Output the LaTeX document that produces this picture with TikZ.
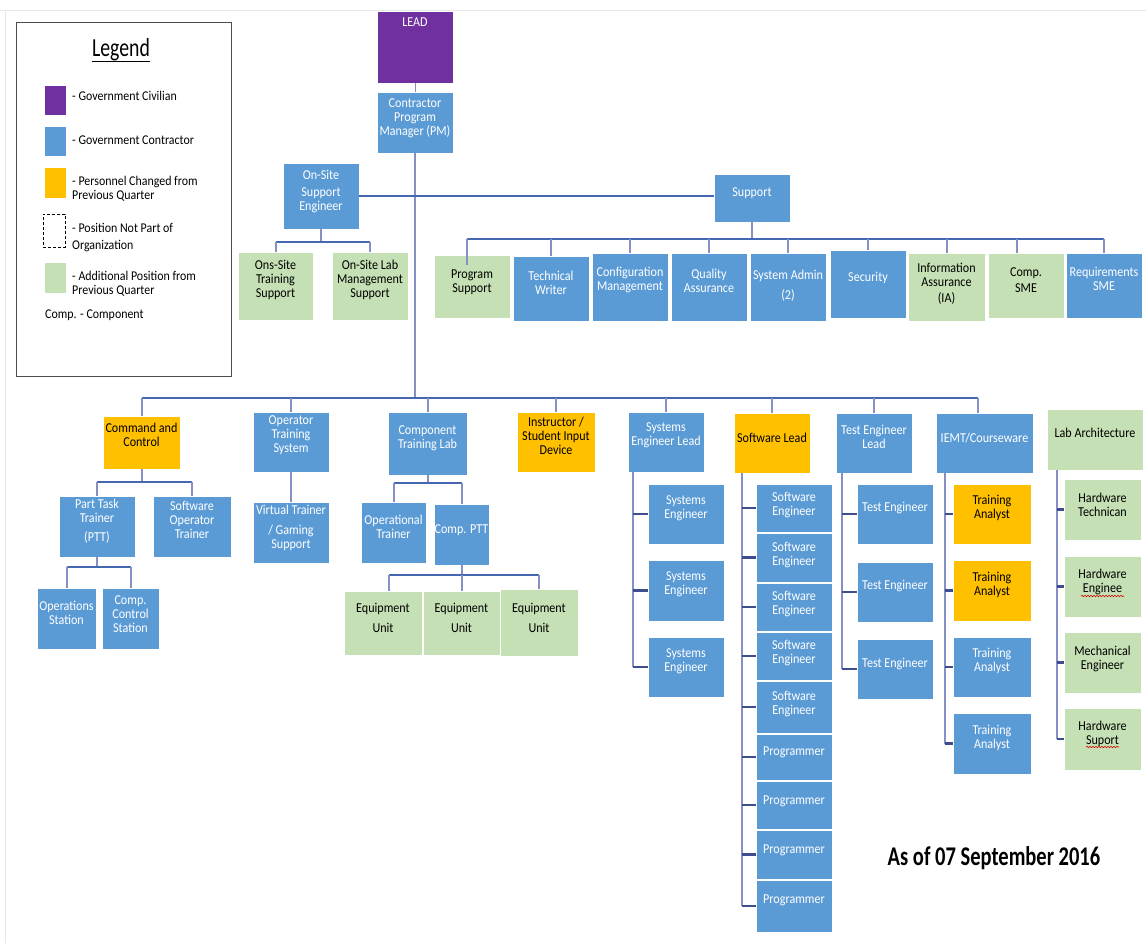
\documentclass[tikz,border=0pt]{standalone}
\usepackage{fontspec}
\setmainfont{Carlito}[FakeStretch=0.89]
\newfontfamily\datefont{Carlito}[FakeStretch=0.76]
\usetikzlibrary{decorations.pathmorphing}
\definecolor{cpur}{HTML}{7030A0}
\definecolor{cblu}{HTML}{5B9BD5}
\definecolor{cora}{HTML}{FFC000}
\definecolor{cgrn}{HTML}{C5E0B4}
\definecolor{cbar}{HTML}{4566B0}
\definecolor{cvert}{HTML}{8590C4}
\definecolor{ctick}{HTML}{3D4D8E}
\tikzset{
 box/.style={inner sep=0pt, outer sep=0pt, draw=white, line width=0.6pt},
 bbox/.style={fill=cblu}, obox/.style={fill=cora}, gbox/.style={fill=cgrn}, pbox/.style={fill=cpur},
 txt/.style={inner sep=0pt, align=center, font=\fontsize{13.6}{14}\selectfont},
 wt/.style={text=white}, kt/.style={text=black},
 hbar/.style={draw=cbar, line width=2.4pt},
 vbar/.style={draw=cvert, line width=2pt},
 tickl/.style={draw=ctick, line width=2.2pt},
 legtxt/.style={inner sep=0pt, anchor=west, align=left, font=\fontsize{13.4}{14}\selectfont},
 squig/.style={draw=red!85!black, line width=0.6pt, decorate, decoration={snake, amplitude=0.7pt, segment length=3pt}},
}
\newcommand\orgbox[9]{%
 \node[box,#6,minimum width={(#4)-(#2)},minimum height={(#5)-(#3)}] (#1) at ({((#2)+(#4))/2},{((#3)+(#5))/2}) {};
 \node[txt,#7] (#1t) at ({((#2)+(#4))/2},#8) {#9};}
\begin{document}
\begin{tikzpicture}[x=1pt,y=-1pt]
\useasboundingbox (0,0) rectangle (1146,943);
\draw[gray!18, line width=0.8pt] (0,10) -- (1146,10);
\draw[gray!18, line width=0.8pt] (5,10) -- (5,943);

% ---------- legend ----------
\node[draw=gray!60!black, line width=0.8pt, minimum width=215, minimum height=354, inner sep=0pt] (legbox) at (123.5,199) {};
\node[inner sep=0pt, anchor=base, font=\datefont\fontsize{26}{28}\selectfont] (legt) at (121,56) {Legend};
\draw[line width=1.2pt] ([yshift=-1pt]legt.south west) -- ([yshift=-1pt]legt.south east);
\node[fill=cpur, minimum width=21, minimum height=29, inner sep=0pt] (lg1) at (55.5,100.5) {};
\node[fill=cblu, minimum width=21, minimum height=29, inner sep=0pt] (lg2) at (55.5,141.5) {};
\node[fill=cora, minimum width=21, minimum height=30, inner sep=0pt] (lg3) at (55.5,183) {};
\node[draw, dash pattern=on 3pt off 2pt, line width=0.8pt, minimum width=22, minimum height=33, inner sep=0pt] (lg4) at (54,230.5) {};
\node[fill=cgrn, minimum width=21, minimum height=30, inner sep=0pt] (lg5) at (55.5,278) {};
\node[legtxt] (lt1) at (72,96) {- Government Civilian};
\node[legtxt] (lt2) at (72,140) {- Government Contractor};
\node[legtxt] (lt3) at (72,188.5) {- Personnel Changed from\\Previous Quarter};
\node[legtxt] (lt4) at (72,237.5) {- Position Not Part of\\[3pt]Organization};
\node[legtxt] (lt5) at (72,283.5) {- Additional Position from\\Previous Quarter};
\node[legtxt] (lt6) at (45,315) {Comp. - Component};

% ---------- top ----------
\orgbox{lead}{377}{11}{453}{83}{pbox}{wt}{22}{LEAD}
\orgbox{pm}{377}{92}{453}{153}{bbox}{wt}{118}{Contractor\\Program\\Manager (PM)}
\orgbox{ose}{283}{163}{359}{229}{bbox}{wt}{191}{On-Site\\[3pt]Support\\Engineer}
\orgbox{sup}{714}{174}{790}{222}{bbox}{wt}{193}{Support}
\orgbox{ostr}{238}{252}{313}{320}{gbox}{kt}{280}{Ons-Site\\Training\\Support}
\orgbox{oslab}{332}{252}{408}{320}{gbox}{kt}{280}{On-Site Lab\\Management\\Support}
\orgbox{ps}{434}{255}{510}{318}{gbox}{kt}{282}{Program\\Support}
\orgbox{tw}{513}{256}{589}{321}{bbox}{wt}{283}{Technical\\Writer}
\orgbox{cm}{592}{253}{668}{321}{bbox}{wt}{280}{Configuration\\Management}
\orgbox{qa}{671}{253}{747}{321}{bbox}{wt}{281}{Quality\\Assurance}
\orgbox{sa}{750}{253}{826}{321}{bbox}{wt}{286}{System Admin\\[6pt](2)}
\orgbox{sec}{830}{250}{906}{318}{bbox}{wt}{278}{Security}
\orgbox{ia}{908}{253}{985}{321}{gbox}{kt}{284}{Information\\Assurance\\[2pt](IA)}
\orgbox{csme}{988}{253}{1064}{318}{gbox}{kt}{280}{Comp.\\[2pt]SME}
\orgbox{rsme}{1066}{253}{1142}{318}{bbox}{wt}{279}{Requirements\\SME}

% ---------- lower first row ----------
\orgbox{cc}{103}{416}{180}{469}{obox}{kt}{435}{Command and\\Control}
\orgbox{ots}{253}{412}{329}{472}{bbox}{wt}{435}{Operator\\Training\\System}
\orgbox{ctl}{388}{412}{467}{475}{bbox}{wt}{438}{Component\\Training Lab}
\orgbox{isd}{517}{412}{595}{472}{obox}{kt}{436}{Instructor /\\Student Input\\Device}
\orgbox{sel}{628}{412}{704}{472}{bbox}{wt}{435}{Systems\\Engineer Lead}
\orgbox{swl}{734}{413}{810}{473}{obox}{kt}{438}{Software Lead}
\orgbox{tel}{836}{413}{912}{473}{bbox}{wt}{437}{Test Engineer\\Lead}
\orgbox{iemt}{936}{413}{1033}{473}{bbox}{wt}{438}{IEMT/Courseware}
\orgbox{lab}{1047}{409}{1143}{470}{gbox}{kt}{433}{Lab Architecture}

% ---------- left subtrees ----------
\orgbox{ptt}{59}{496}{135}{557}{bbox}{wt}{521}{Part Task\\Trainer\\[5pt](PTT)}
\orgbox{sot}{153}{496}{231}{557}{bbox}{wt}{520}{Software\\Operator\\Trainer}
\orgbox{vt}{253}{502}{329}{563}{bbox}{wt}{528}{Virtual Trainer\\[6pt]/ Gaming\\Support}
\orgbox{opt}{361}{502}{426}{563}{bbox}{wt}{527}{Operational\\Trainer}
\orgbox{cptt}{434}{504}{489}{565}{bbox}{wt}{530}{Comp. PTT}
\orgbox{os}{37}{588}{96}{649}{bbox}{wt}{613}{Operations\\Station}
\orgbox{ccs}{102}{588}{159}{649}{bbox}{wt}{614}{Comp.\\Control\\Station}
\orgbox{eu1}{344}{591}{422}{655}{gbox}{kt}{618}{Equipment\\[6pt]Unit}
\orgbox{eu2}{423}{591}{500}{655}{gbox}{kt}{618}{Equipment\\[6pt]Unit}
\orgbox{eu3}{500}{589}{578}{656}{gbox}{kt}{618}{Equipment\\[6pt]Unit}

% ---------- right lists ----------
\orgbox{se1}{648}{484}{724}{544}{bbox}{wt}{508}{Systems\\Engineer}
\orgbox{se2}{648}{560}{724}{621}{bbox}{wt}{584}{Systems\\Engineer}
\orgbox{se3}{648}{637}{724}{697}{bbox}{wt}{661}{Systems\\Engineer}
\orgbox{sw1}{756}{484}{832}{532}{bbox}{wt}{505}{Software\\Engineer}
\orgbox{sw2}{756}{533}{832}{582}{bbox}{wt}{555}{Software\\Engineer}
\orgbox{sw3}{756}{583}{832}{631}{bbox}{wt}{604}{Software\\Engineer}
\orgbox{sw4}{756}{632}{832}{680}{bbox}{wt}{653}{Software\\Engineer}
\orgbox{sw5}{756}{681}{832}{733}{bbox}{wt}{704}{Software\\Engineer}
\orgbox{pr1}{756}{734}{832}{780}{bbox}{wt}{752}{Programmer}
\orgbox{pr2}{756}{781}{832}{829}{bbox}{wt}{801}{Programmer}
\orgbox{pr3}{756}{830}{832}{879}{bbox}{wt}{850}{Programmer}
\orgbox{pr4}{756}{880}{832}{932}{bbox}{wt}{900}{Programmer}
\orgbox{te1}{857}{484}{933}{544}{bbox}{wt}{508}{Test Engineer}
\orgbox{te2}{857}{562}{933}{622}{bbox}{wt}{586}{Test Engineer}
\orgbox{te3}{857}{639}{933}{699}{bbox}{wt}{664}{Test Engineer}
\orgbox{ta1}{953}{484}{1031}{544}{obox}{kt}{508}{Training\\Analyst}
\orgbox{ta2}{953}{560}{1031}{621}{obox}{kt}{585}{Training\\Analyst}
\orgbox{ta3}{953}{637}{1031}{697}{bbox}{wt}{661}{Training\\Analyst}
\orgbox{ta4}{953}{713}{1031}{774}{bbox}{wt}{738}{Training\\Analyst}
\orgbox{hw1}{1064}{479}{1141}{540}{gbox}{kt}{505}{Hardware\\Technican}
\orgbox{hw2}{1064}{556}{1141}{617}{gbox}{kt}{582}{Hardware\\Enginee}
\orgbox{hw3}{1064}{632}{1141}{693}{gbox}{kt}{659}{Mechanical\\Engineer}
\orgbox{hw4}{1064}{708}{1141}{770}{gbox}{kt}{734}{Hardware\\Suport}
\draw[squig] (1081,596) -- (1124,596);
\draw[squig] (1086,747) -- (1119,747);

\node[inner sep=0pt, font=\datefont\bfseries\fontsize{27}{30}\selectfont] (date) at (994,858) {As of 07 September 2016};

% ---------- connectors ----------
\coordinate (mb) at (0,398);
\coordinate (ob) at (0,242);
\coordinate (sb) at (0,239);
\coordinate (b1) at (0,482);
\coordinate (b2) at (0,567);
\coordinate (b3) at (0,483);
\coordinate (b4) at (0,575);
\draw[vbar, line width=1pt] (lead.south) -- (pm.north);
\draw[vbar] (pm.south) -- (pm.south|-mb);
\draw[hbar] (ose.east) -- (ose.east-|sup.west);
% on-site
\draw[vbar] (ose.south) -- (ose.south|-ob);
\draw[hbar] (ostr.north|-ob) -- (oslab.north|-ob);
\draw[vbar] (ostr.north|-ob) -- (ostr.north);
\draw[vbar] (oslab.north|-ob) -- (oslab.north);
% support
\draw[vbar] (sup.south) -- (sup.south|-sb);
\draw[hbar] ([xshift=-5pt]ps.north|-sb) -- (rsme.north|-sb);
\draw[vbar] ([xshift=-5pt]ps.north|-sb) -- ([xshift=-5pt,yshift=-10pt]ps.north);
\draw[vbar] ([xshift=-9pt]csme.north|-sb) -- ([xshift=-9pt]csme.north);
\foreach \n in {tw,cm,qa,sa,sec,ia,rsme}{\draw[vbar] (\n.north|-sb) -- (\n.north);}
% main bar
\draw[hbar] (cc.north|-mb) -- ([xshift=-7pt]iemt.north|-mb);
\foreach \n in {cc,ots,ctl,isd,sel,swl,tel}{\draw[vbar] (\n.north|-mb) -- (\n.north);}
\draw[vbar] ([xshift=-7pt]iemt.north|-mb) -- ([xshift=-7pt]iemt.north);
% command and control
\draw[vbar] (cc.south) -- (cc.south|-b1);
\draw[hbar] (ptt.north|-b1) -- (sot.north|-b1);
\draw[vbar] (ptt.north|-b1) -- (ptt.north);
\draw[vbar] (sot.north|-b1) -- (sot.north);
\draw[vbar] (ptt.south) -- (ptt.south|-b2);
\draw[hbar] (os.north|-b2) -- (ccs.north|-b2);
\draw[vbar] (os.north|-b2) -- (os.north);
\draw[vbar] (ccs.north|-b2) -- (ccs.north);
% operator training
\draw[vbar] (ots.south) -- (vt.north);
% component training lab
\draw[vbar] (ctl.south) -- (ctl.south|-b3);
\draw[hbar] (opt.north|-b3) -- (cptt.north|-b3);
\draw[vbar] (opt.north|-b3) -- (opt.north);
\draw[vbar] (cptt.north|-b3) -- (cptt.north);
\draw[vbar] (cptt.south) -- (cptt.south|-b4);
\draw[hbar] ([xshift=6pt]eu1.north|-b4) -- (eu3.north|-b4);
\draw[vbar] ([xshift=6pt]eu1.north|-b4) -- ([xshift=6pt]eu1.north);
\draw[vbar] (eu2.north|-b4) -- (eu2.north);
\draw[vbar] (eu3.north|-b4) -- (eu3.north);
% lists
\coordinate (selx) at ([xshift=5pt]sel.south west);
\draw[vbar] (selx) -- (selx|-se3.west);
\foreach \n in {se1,se2,se3}{\draw[tickl] (selx|-\n.west) -- (\n.west);}
\coordinate (swlx) at ([xshift=8pt]swl.south west);
\draw[vbar] (swlx) -- (swlx|-pr4.west);
\foreach \n in {sw1,sw2,sw3,sw4,sw5,pr1,pr2,pr3,pr4}{\draw[tickl] (swlx|-\n.west) -- (\n.west);}
\coordinate (telx) at ([xshift=6pt]tel.south west);
\draw[vbar] (telx) -- (telx|-te3.west);
\foreach \n in {te1,te2,te3}{\draw[tickl] (telx|-\n.west) -- (\n.west);}
\coordinate (iemtx) at ([xshift=9pt]iemt.south west);
\draw[vbar] (iemtx) -- (iemtx|-ta4.west);
\foreach \n in {ta1,ta2,ta3,ta4}{\draw[tickl] (iemtx|-\n.west) -- (\n.west);}
\coordinate (labx) at ([xshift=10pt]lab.south west);
\draw[vbar] (labx) -- (labx|-hw4.west);
\foreach \n in {hw1,hw2,hw3,hw4}{\draw[tickl] (labx|-\n.west) -- (\n.west);}
\end{tikzpicture}
\end{document}
